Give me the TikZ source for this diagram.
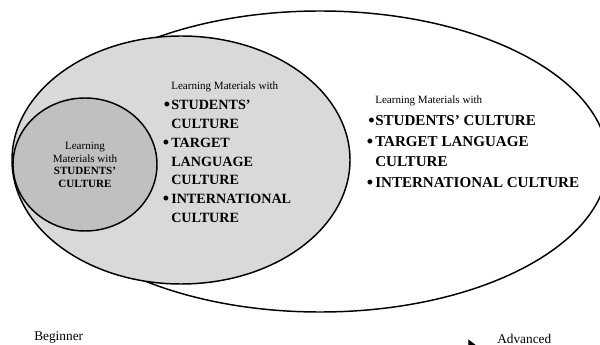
\documentclass[tikz,border=0pt]{standalone}
\usepackage{fontspec}
\setmainfont{Liberation Serif}
\usetikzlibrary{shapes.geometric,arrows.meta}
\definecolor{ringlight}{RGB}{217,217,217}
\definecolor{ringdark}{RGB}{192,192,192}
\begin{document}
\begin{tikzpicture}[x=0.75pt,y=-0.75pt,
  zone/.style={ellipse, draw=black, line width=1.1pt, inner sep=0pt, outer sep=0pt},
  lead/.style={anchor=base west, inner sep=0pt, font=\fontsize{8.3}{9}\selectfont},
  midlbl/.style={anchor=base west, inner sep=0pt, font=\fontsize{10.6}{12}\selectfont\bfseries},
  biglbl/.style={anchor=base west, inner sep=0pt, font=\fontsize{11.3}{13}\selectfont\bfseries},
  coreline/.style={anchor=base, inner sep=0pt, font=\fontsize{8.3}{9}\selectfont},
  corebold/.style={coreline, font=\fontsize{8.3}{9}\selectfont\bfseries},
  dot/.style={anchor=base east, inner sep=0pt, font=\fontsize{13.5}{14}\selectfont\bfseries},
  level/.style={anchor=base west, inner sep=0pt, font=\fontsize{10}{12}\selectfont},
  levelarrow/.style={line width=0.8pt, -{Triangle[length=8,width=12]}}
]
\useasboundingbox (0,0) rectangle (600,345);
\clip (0,0) rectangle (600,345);

% nested stages
\node[zone, fill=white, minimum width=432pt, minimum height=225.75pt] (outer) at (320,161.5) {};
\node[zone, fill=ringlight, minimum width=253.5pt, minimum height=186pt] (middle) at (181,160) {};
\node[zone, fill=ringdark, minimum width=108pt, minimum height=99.75pt] (core) at (85,164.5) {};

% innermost stage
\node[coreline] (c1) at (85,150) {Learning};
\node[coreline] (c2) at (85,162.5) {Materials with};
\node[corebold] (c3) at (85,175) {STUDENTS’};
\node[corebold] (c4) at (85,187.5) {CULTURE};

% middle stage
\node[lead] (m0) at (171,89.5) {Learning Materials with};
\node[dot] (mb1) at (170.5,111) {\textbullet};
\node[midlbl] (m1) at (171,110) {STUDENTS’};
\node[midlbl] (m2) at (171,128.7) {CULTURE};
\node[dot] (mb2) at (169.5,148.4) {\textbullet};
\node[midlbl] (m3) at (171,147.4) {TARGET};
\node[midlbl] (m4) at (171,166.1) {LANGUAGE};
\node[midlbl] (m5) at (171,184.8) {CULTURE};
\node[dot] (mb3) at (169.5,204.5) {\textbullet};
\node[midlbl] (m6) at (171,203.5) {INTERNATIONAL};
\node[midlbl] (m7) at (171,222.2) {CULTURE};

% outer stage
\node[lead] (o0) at (375,103.5) {Learning Materials with};
\node[dot] (ob1) at (375,127) {\textbullet};
\node[biglbl] (o1) at (375,126) {STUDENTS’ CULTURE};
\node[dot] (ob2) at (373.5,147.5) {\textbullet};
\node[biglbl] (o2) at (375,146.5) {TARGET LANGUAGE};
\node[biglbl] (o3) at (375,167) {CULTURE};
\node[dot] (ob3) at (373.5,188.5) {\textbullet};
\node[biglbl] (o4) at (375,187.5) {INTERNATIONAL CULTURE};

% progression axis
\node[level] (beg) at (34,341) {Beginner};
\node[level] (adv) at (497,343.5) {Advanced};
\coordinate (axisfrom) at (34,347.5);
\coordinate (axisto) at (479,347.5);
\draw[levelarrow] (axisfrom) -- (axisto);
\end{tikzpicture}
\end{document}
